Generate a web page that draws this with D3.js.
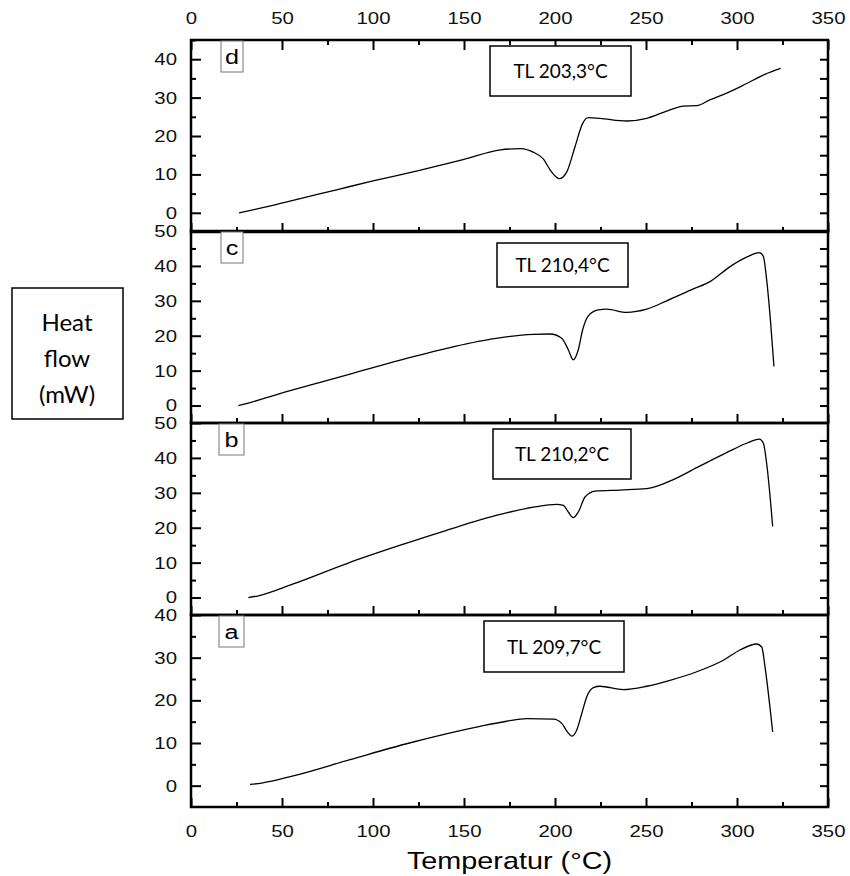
<!DOCTYPE html>
<html>
<head>
<meta charset="utf-8">
<script src="https://cdn.jsdelivr.net/npm/d3@7"></script>
<style>
  body { margin: 0; background: #fff; }
  svg { display: block; }
</style>
</head>
<body>
<div id="chart-area"></div>
<script>
// temperature (°C) and heat flow (mW)
var tempD = [26.4, 40, 60, 80, 100, 125, 150, 170, 181, 188, 193.4, 198.2, 202.4, 206.4, 211, 215.2, 218.3, 224.7, 239.4, 250.4, 261.4, 270.5, 277.9, 285, 295, 305, 315, 324];
var flowD = [0, 1.4, 3.7, 6.0, 8.3, 11.0, 13.9, 16.4, 16.7, 15.8, 14.1, 10.6, 8.9, 10.6, 17.2, 23.3, 24.8, 24.6, 23.9, 24.6, 26.5, 27.8, 27.9, 29.4, 31.3, 33.6, 36.0, 37.6];

var tempC = [26, 31.5, 48, 70, 87.4, 115, 140, 164.8, 188, 197.3, 203.7, 207.3, 210, 212.8, 215.2, 218.3, 223.8, 228.4, 239.4, 250.4, 261.4, 276, 285.2, 296.2, 305.3, 312.3, 314.5, 316.3, 318.5, 320.3];
var flowC = [0, 0.7, 3.3, 6.5, 9.0, 13.0, 16.3, 19.0, 20.4, 20.5, 19.3, 16.0, 13.1, 16.0, 21.7, 25.7, 27.4, 27.6, 26.7, 27.6, 30.0, 33.4, 35.5, 39.8, 42.5, 43.8, 42.7, 36.0, 23.6, 11.2];

var tempB = [31.5, 37, 56.2, 87.4, 115, 140, 169.8, 188.1, 200.9, 204.6, 207.3, 210, 212.8, 216.5, 222, 235.7, 250.4, 265, 279.7, 294.3, 305.3, 312.3, 314.5, 316.3, 319.6];
var flowB = [0, 0.5, 3.9, 10.1, 15.0, 19.2, 23.8, 25.9, 26.7, 26.4, 24.5, 22.9, 24.5, 28.8, 30.5, 30.8, 31.2, 33.8, 37.7, 41.5, 44.2, 45.4, 44.2, 38.4, 20.4];

var tempA = [32.4, 38.8, 56.2, 87.4, 120, 158.8, 173.5, 184.4, 199.1, 203.7, 206.8, 209.2, 211.9, 214.7, 217.4, 221.1, 224.7, 237.5, 250.4, 263.2, 277.9, 292.5, 301.6, 310.8, 313.6, 315.4, 319.6];
var flowA = [0.3, 0.6, 2.3, 6.1, 10.0, 13.9, 15.1, 15.7, 15.6, 14.6, 12.6, 11.6, 13.0, 16.9, 20.8, 23.0, 23.3, 22.5, 23.3, 24.7, 26.7, 29.4, 31.8, 33.2, 32.5, 27.8, 12.6];

var panelNames = ["d", "c", "b", "a"];
var panelTL = ["TL 203,3°C", "TL 210,4°C", "TL 210,2°C", "TL 209,7°C"];
var panelYMin = [-5, -5, -5, -5];
var panelYMax = [45, 50, 50, 40];
var xTicks = [0, 50, 100, 150, 200, 250, 300, 350];

var width = 850, height = 876;
var left = 191, right = 828;
var panelTops = [40, 231, 423, 615];
var panelH = 192;
var wide = 1.2; // the original figure is a little stretched sideways

var svg = d3.select("#chart-area").append("svg")
    .attr("width", width)
    .attr("height", height);

var x = d3.scaleLinear().domain([0, 350]).range([left, right]);
var minorX = d3.range(0, 351, 25).filter(d => d % 50 !== 0);

var series = [
    tempD.map((t, i) => ({t: t, v: flowD[i]})),
    tempC.map((t, i) => ({t: t, v: flowC[i]})),
    tempB.map((t, i) => ({t: t, v: flowB[i]})),
    tempA.map((t, i) => ({t: t, v: flowA[i]}))
];

var tickFont = "'Liberation Sans', Arial, sans-serif";
var boxFont = "Lato, 'Open Sans', sans-serif";

function stretch(sel, k) {
    sel.each(function() {
        var t = d3.select(this);
        var x0 = +t.attr("x") || 0;
        t.attr("x", x0 / k).attr("transform", `scale(${k},1)`);
    });
}

panelNames.forEach((name, p) => {
    var top = panelTops[p], bottom = top + panelH;
    var y = d3.scaleLinear().domain([panelYMin[p], panelYMax[p]]).range([bottom, top]);
    var g = svg.append("g");

    var majorY = d3.range(0, panelYMax[p] + 0.1, 10);
    var minorY = d3.range(5, panelYMax[p] + 0.1, 10);
    var rightY = d3.range(0, panelYMax[p] + 0.1, 5).filter(d => d < panelYMax[p]);

    // left axis
    var la = g.append("g").attr("transform", `translate(${left},0)`)
        .call(d3.axisLeft(y).tickValues(majorY).tickSize(-10).tickPadding(14).tickFormat(d3.format("d")));
    la.append("g").call(d3.axisLeft(y).tickValues(minorY).tickSize(-5).tickFormat(""));
    // right axis
    g.append("g").attr("transform", `translate(${right},0)`)
        .call(d3.axisRight(y).tickValues(rightY).tickSize(-8).tickFormat(""));
    // bottom axis of each panel, ticks pointing up
    var ba = g.append("g").attr("transform", `translate(0,${bottom})`)
        .call(d3.axisBottom(x).tickValues(xTicks).tickSize(-9).tickPadding(18)
            .tickFormat(p === 3 ? d3.format("d") : ""));
    ba.append("g").call(d3.axisBottom(x).tickValues(minorX).tickSize(-5).tickFormat(""));
    if (p === 0) {
        var ta = g.append("g").attr("transform", `translate(0,${top})`)
            .call(d3.axisTop(x).tickValues(xTicks).tickSize(-10).tickPadding(16).tickFormat(d3.format("d")));
        ta.append("g").call(d3.axisTop(x).tickValues(minorX).tickSize(-5).tickFormat(""));
    }

    g.selectAll(".domain").remove();
    g.selectAll(".tick line").attr("stroke", "#000").attr("stroke-width", 2);
    g.selectAll(".tick text")
        .style("font-family", tickFont).style("font-size", "17px").attr("fill", "#111")
        .call(stretch, wide);

    // panel frame
    g.append("rect")
        .attr("x", left).attr("y", top)
        .attr("width", right - left).attr("height", panelH)
        .attr("fill", "none").attr("stroke", "#000").attr("stroke-width", 2.5);

    // curve
    var line = d3.line()
        .x(d => x(d.t))
        .y(d => y(d.v))
        .curve(d3.curveMonotoneX);
    g.append("path")
        .datum(series[p])
        .attr("d", line)
        .attr("fill", "none")
        .attr("stroke", "#000")
        .attr("stroke-width", 1.3);

    // letter box
    var lx = p < 2 ? 221 : 219, lw = p < 2 ? 22 : 25;
    g.append("rect")
        .attr("x", lx).attr("y", top + 1)
        .attr("width", lw).attr("height", 31)
        .attr("fill", "#fff").attr("stroke", "#777").attr("stroke-width", 1);
    g.append("text")
        .attr("x", lx + lw / 2).attr("y", top + 24)
        .attr("text-anchor", "middle")
        .style("font-family", tickFont).style("font-size", "21px")
        .text(name)
        .call(stretch, wide);

    // TL box
    var boxX = [490, 497, 493, 484][p], boxY = [46, 243, 429, 621][p];
    var boxW = [141, 131, 138, 140][p], boxH = [50, 44, 50, 51][p];
    g.append("rect")
        .attr("x", boxX).attr("y", boxY)
        .attr("width", boxW).attr("height", boxH)
        .attr("fill", "#fff").attr("stroke", "#000").attr("stroke-width", 1.5);
    g.append("text")
        .attr("x", boxX + boxW / 2).attr("y", boxY + boxH / 2 + 7)
        .attr("text-anchor", "middle")
        .style("font-family", boxFont).style("font-size", "19px")
        .text(panelTL[p]);
});

// y label box
svg.append("rect")
    .attr("x", 12).attr("y", 288)
    .attr("width", 111).attr("height", 131)
    .attr("fill", "none").attr("stroke", "#000").attr("stroke-width", 1.5);
svg.append("g").selectAll("text")
    .data(["Heat", "flow", "(mW)"])
    .enter().append("text")
    .attr("x", 67)
    .attr("y", (d, i) => 331 + i * 36)
    .attr("text-anchor", "middle")
    .style("font-family", boxFont).style("font-size", "24px")
    .text(d => d);

svg.append("text")
    .attr("x", (left + right) / 2).attr("y", 869)
    .attr("text-anchor", "middle")
    .style("font-family", tickFont).style("font-size", "24px")
    .text("Temperatur (°C)")
    .call(stretch, wide);
</script>
</body>
</html>
